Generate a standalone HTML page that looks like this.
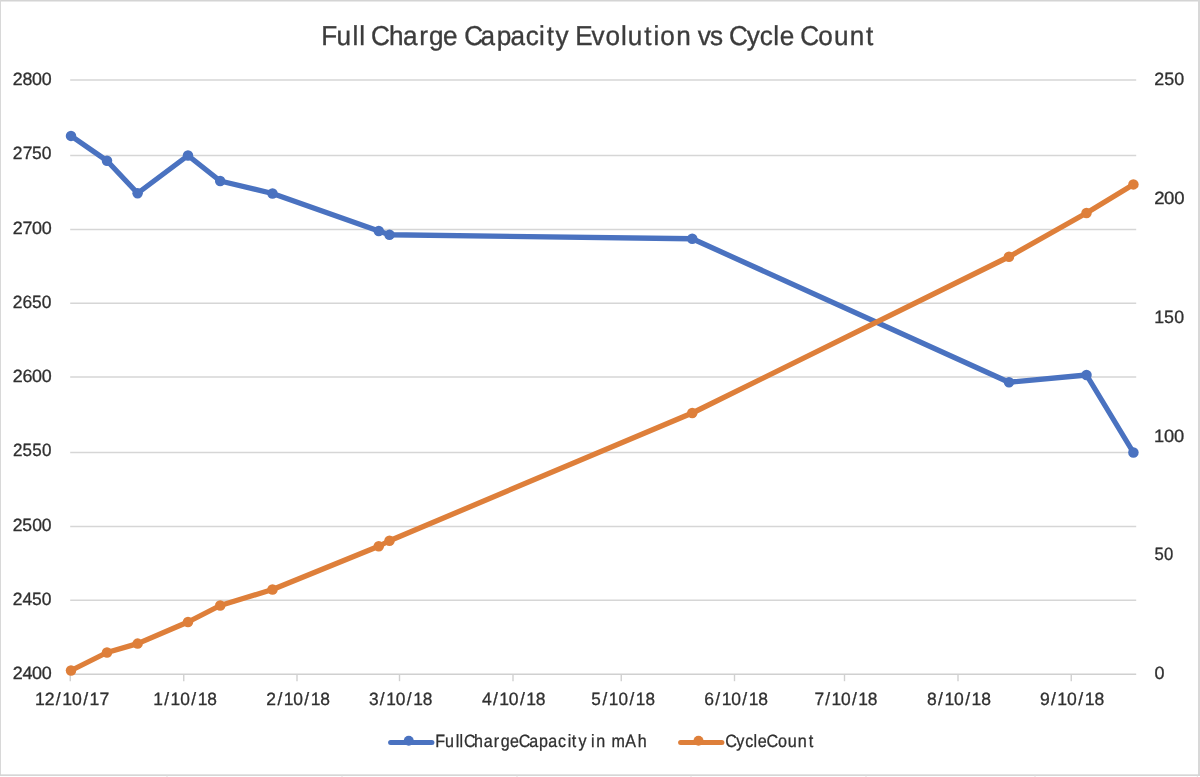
<!DOCTYPE html>
<html><head><meta charset="utf-8"><title>Full Charge Capacity Evolution vs Cycle Count</title>
<style>
html,body{margin:0;padding:0;background:#fff;}
body{width:1200px;height:777px;overflow:hidden;}
svg{display:block;font-family:"Liberation Sans",sans-serif;font-kerning:none;text-rendering:geometricPrecision;}
</style></head><body>
<svg width="1200" height="777" viewBox="0 0 1200 777">
<line x1="70.2" x2="1136.2" y1="80.1" y2="80.1" stroke="#d6d6d6" stroke-width="1.5"/>
<line x1="70.2" x2="1136.2" y1="155.4" y2="155.4" stroke="#d6d6d6" stroke-width="1.5"/>
<line x1="70.2" x2="1136.2" y1="229.5" y2="229.5" stroke="#d6d6d6" stroke-width="1.5"/>
<line x1="70.2" x2="1136.2" y1="303.2" y2="303.2" stroke="#d6d6d6" stroke-width="1.5"/>
<line x1="70.2" x2="1136.2" y1="377.0" y2="377.0" stroke="#d6d6d6" stroke-width="1.5"/>
<line x1="70.2" x2="1136.2" y1="452.5" y2="452.5" stroke="#d6d6d6" stroke-width="1.5"/>
<line x1="70.2" x2="1136.2" y1="526.6" y2="526.6" stroke="#d6d6d6" stroke-width="1.5"/>
<line x1="70.2" x2="1136.2" y1="600.3" y2="600.3" stroke="#d6d6d6" stroke-width="1.5"/>
<line x1="70.2" x2="1136.2" y1="674.3" y2="674.3" stroke="#d0d0d0" stroke-width="1.5"/>
<line x1="70.25" x2="70.25" y1="674.3" y2="681.2" stroke="#d0d0d0" stroke-width="1.4"/>
<line x1="183.75" x2="183.75" y1="674.3" y2="681.2" stroke="#d0d0d0" stroke-width="1.4"/>
<line x1="297" x2="297" y1="674.3" y2="681.2" stroke="#d0d0d0" stroke-width="1.4"/>
<line x1="399.5" x2="399.5" y1="674.3" y2="681.2" stroke="#d0d0d0" stroke-width="1.4"/>
<line x1="513" x2="513" y1="674.3" y2="681.2" stroke="#d0d0d0" stroke-width="1.4"/>
<line x1="621.25" x2="621.25" y1="674.3" y2="681.2" stroke="#d0d0d0" stroke-width="1.4"/>
<line x1="734.5" x2="734.5" y1="674.3" y2="681.2" stroke="#d0d0d0" stroke-width="1.4"/>
<line x1="844.5" x2="844.5" y1="674.3" y2="681.2" stroke="#d0d0d0" stroke-width="1.4"/>
<line x1="958" x2="958" y1="674.3" y2="681.2" stroke="#d0d0d0" stroke-width="1.4"/>
<line x1="1071.25" x2="1071.25" y1="674.3" y2="681.2" stroke="#d0d0d0" stroke-width="1.4"/>
<polyline points="71,135.9 107,160.75 137.6,193.25 188,155.5 220.2,181 272.5,193.5 378.75,231 389.5,234.75 692.25,238.75 1009,382.25 1086.5,375 1133.4,452.5" fill="none" stroke="#4a72c0" stroke-width="5.3" stroke-linejoin="round" stroke-linecap="round"/><circle cx="71" cy="135.9" r="5.25" fill="#4a72c0"/><circle cx="107" cy="160.75" r="5.25" fill="#4a72c0"/><circle cx="137.6" cy="193.25" r="5.25" fill="#4a72c0"/><circle cx="188" cy="155.5" r="5.25" fill="#4a72c0"/><circle cx="220.2" cy="181" r="5.25" fill="#4a72c0"/><circle cx="272.5" cy="193.5" r="5.25" fill="#4a72c0"/><circle cx="378.75" cy="231" r="5.25" fill="#4a72c0"/><circle cx="389.5" cy="234.75" r="5.25" fill="#4a72c0"/><circle cx="692.25" cy="238.75" r="5.25" fill="#4a72c0"/><circle cx="1009" cy="382.25" r="5.25" fill="#4a72c0"/><circle cx="1086.5" cy="375" r="5.25" fill="#4a72c0"/><circle cx="1133.4" cy="452.5" r="5.25" fill="#4a72c0"/>
<polyline points="71,670.5 107,652.5 137.6,643.6 188,622 220.2,605.5 272.5,589.5 378.75,546.25 389.5,540.75 692.25,413 1009,256.75 1086.5,213.05 1133.4,184.4" fill="none" stroke="#de7f3a" stroke-width="5.3" stroke-linejoin="round" stroke-linecap="round"/><circle cx="71" cy="670.5" r="5.25" fill="#de7f3a"/><circle cx="107" cy="652.5" r="5.25" fill="#de7f3a"/><circle cx="137.6" cy="643.6" r="5.25" fill="#de7f3a"/><circle cx="188" cy="622" r="5.25" fill="#de7f3a"/><circle cx="220.2" cy="605.5" r="5.25" fill="#de7f3a"/><circle cx="272.5" cy="589.5" r="5.25" fill="#de7f3a"/><circle cx="378.75" cy="546.25" r="5.25" fill="#de7f3a"/><circle cx="389.5" cy="540.75" r="5.25" fill="#de7f3a"/><circle cx="692.25" cy="413" r="5.25" fill="#de7f3a"/><circle cx="1009" cy="256.75" r="5.25" fill="#de7f3a"/><circle cx="1086.5" cy="213.05" r="5.25" fill="#de7f3a"/><circle cx="1133.4" cy="184.4" r="5.25" fill="#de7f3a"/>
<text transform="translate(0 85.00) scale(1.0015 1)" x="12.73 22.37 32.03 41.69" font-size="17.8" fill="#303030" stroke="#303030" stroke-width="0.3">2800</text>
<text transform="translate(0 159.28) scale(0.9811 1)" x="13.10 23.08 32.68 42.66" font-size="17.8" fill="#303030" stroke="#303030" stroke-width="0.3">2750</text>
<text transform="translate(0 233.56) scale(1.0093 1)" x="12.59 22.29 31.74 41.33" font-size="17.8" fill="#303030" stroke="#303030" stroke-width="0.3">2700</text>
<text transform="translate(0 307.84) scale(0.9778 1)" x="13.16 23.07 32.81 42.82" font-size="17.8" fill="#303030" stroke="#303030" stroke-width="0.3">2650</text>
<text transform="translate(0 382.12) scale(1.0059 1)" x="12.65 22.28 31.86 41.48" font-size="17.8" fill="#303030" stroke="#303030" stroke-width="0.3">2600</text>
<text transform="translate(0 456.40) scale(0.9570 1)" x="13.55 23.52 33.63 43.86" font-size="17.8" fill="#303030" stroke="#303030" stroke-width="0.3">2550</text>
<text transform="translate(0 530.68) scale(0.9850 1)" x="13.02 22.71 32.65 42.47" font-size="17.8" fill="#303030" stroke="#303030" stroke-width="0.3">2500</text>
<text transform="translate(0 604.96) scale(0.9818 1)" x="13.08 22.97 32.65 42.62" font-size="17.8" fill="#303030" stroke="#303030" stroke-width="0.3">2450</text>
<text transform="translate(0 679.24) scale(1.0093 1)" x="12.59 22.21 31.74 41.33" font-size="17.8" fill="#303030" stroke="#303030" stroke-width="0.3">2400</text>
<text transform="translate(0 85.00) scale(1.0053 1)" x="1148.28 1158.09 1168.15" font-size="17.8" fill="#303030" stroke="#303030" stroke-width="0.3">250</text>
<text transform="translate(0 203.85) scale(1.0439 1)" x="1105.62 1115.17 1124.75" font-size="17.8" fill="#303030" stroke="#303030" stroke-width="0.3">200</text>
<text transform="translate(0 322.70) scale(0.9992 1)" x="1155.23 1165.06 1175.30" font-size="17.8" fill="#303030" stroke="#303030" stroke-width="0.3">150</text>
<text transform="translate(0 441.55) scale(1.0297 1)" x="1120.76 1130.33 1140.07" font-size="17.8" fill="#303030" stroke="#303030" stroke-width="0.3">100</text>
<text transform="translate(0 560.40) scale(0.9368 1)" x="1232.47 1242.61" font-size="17.8" fill="#303030" stroke="#303030" stroke-width="0.3">50</text>
<text transform="translate(0 679.25) scale(1.0107 1)" x="1142.27" font-size="17.8" fill="#303030" stroke="#303030" stroke-width="0.3">0</text>
<text transform="translate(0 704.70) scale(0.9925 1)" x="35.22 45.05 56.27 62.75 72.55 83.79 90.27 100.22" font-size="17.8" fill="#303030" stroke="#303030" stroke-width="0.3">12/10/17</text>
<text transform="translate(0 704.70) scale(0.9753 1)" x="157.15 168.31 174.89 184.78 196.11 202.69 212.58" font-size="17.8" fill="#303030" stroke="#303030" stroke-width="0.3">1/10/18</text>
<text transform="translate(0 704.70) scale(0.9811 1)" x="271.51 282.72 289.20 298.99 310.23 316.70 326.49" font-size="17.8" fill="#303030" stroke="#303030" stroke-width="0.3">2/10/18</text>
<text transform="translate(0 704.70) scale(0.9750 1)" x="378.46 389.62 396.16 406.02 417.31 423.85 433.71" font-size="17.8" fill="#303030" stroke="#303030" stroke-width="0.3">3/10/18</text>
<text transform="translate(0 704.70) scale(0.9852 1)" x="489.18 500.31 506.74 516.49 527.69 534.12 543.87" font-size="17.8" fill="#303030" stroke="#303030" stroke-width="0.3">4/10/18</text>
<text transform="translate(0 704.70) scale(0.9652 1)" x="612.64 624.14 630.77 640.72 652.10 658.73 668.68" font-size="17.8" fill="#303030" stroke="#303030" stroke-width="0.3">5/10/18</text>
<text transform="translate(0 704.70) scale(0.9823 1)" x="717.07 728.26 734.72 744.50 755.73 762.19 771.97" font-size="17.8" fill="#303030" stroke="#303030" stroke-width="0.3">6/10/18</text>
<text transform="translate(0 704.70) scale(0.9780 1)" x="832.75 843.80 850.24 860.00 871.20 877.63 887.39" font-size="17.8" fill="#303030" stroke="#303030" stroke-width="0.3">7/10/18</text>
<text transform="translate(0 704.70) scale(0.9851 1)" x="940.98 952.24 958.73 968.55 979.81 986.30 996.12" font-size="17.8" fill="#303030" stroke="#303030" stroke-width="0.3">8/10/18</text>
<text transform="translate(0 704.70) scale(0.9869 1)" x="1053.84 1064.84 1071.39 1081.26 1092.57 1099.12 1108.99" font-size="17.8" fill="#303030" stroke="#303030" stroke-width="0.3">9/10/18</text>
<text transform="translate(0 45.40) scale(0.9612 1)" x="334.12 350.18 366.66 373.86 379.90 385.87 404.66 419.33 436.17 446.40 460.99 476.12 482.93 499.99 516.70 531.21 546.89 560.79 568.71 578.02 591.62 598.55 615.46 629.85 646.10 653.16 670.24 679.84 687.03 703.43 718.55 726.04 738.68 752.28 758.45 776.80 790.49 804.44 811.28 826.41 832.61 851.32 867.59 884.11 901.05" font-size="27.2" fill="#3c3c3c" stroke="#3c3c3c" stroke-width="0.35">Full Charge Capacity Evolution vs Cycle Count</text>
<line x1="390.6" x2="431.9" y1="742.6" y2="742.6" stroke="#4a72c0" stroke-width="5" stroke-linecap="round"/><circle cx="408.75" cy="740.8" r="5" fill="#4a72c0"/>
<line x1="680.6" x2="721.9" y1="742.6" y2="742.6" stroke="#de7f3a" stroke-width="5" stroke-linecap="round"/><circle cx="698.5" cy="740.8" r="5" fill="#de7f3a"/>
<text transform="translate(0 746.50) scale(0.9021 1)" x="482.50 493.16 505.20 509.30 514.22 525.47 536.22 547.40 555.03 565.24 575.00 586.60 597.59 607.80 618.65 629.31 633.72 641.23 650.13 655.22 661.09 670.99 677.90 693.24 707.07" font-size="17.8" fill="#303030" stroke="#303030" stroke-width="0.3">FullChargeCapacity in mAh</text>
<text transform="translate(0 746.50) scale(0.9097 1)" x="797.11 809.47 819.17 828.22 833.04 842.46 855.26 866.02 876.98 889.05" font-size="17.8" fill="#303030" stroke="#303030" stroke-width="0.3">CycleCount</text>
<rect x="0" y="0" width="1200" height="1.5" fill="#d4d4d4"/><rect x="0" y="0" width="1" height="775.8" fill="#d8d8d8"/><rect x="1198" y="0" width="2" height="775.8" fill="#d8d8d8"/><rect x="0" y="774.35" width="1200" height="1.6" fill="#d4d4d4"/><rect x="166.5" y="775.8" width="1" height="1.2" fill="#e4e4e4"/><rect x="341.5" y="775.8" width="1" height="1.2" fill="#e4e4e4"/><rect x="516.5" y="775.8" width="1" height="1.2" fill="#e4e4e4"/><rect x="690.5" y="775.8" width="1" height="1.2" fill="#e4e4e4"/><rect x="865.5" y="775.8" width="1" height="1.2" fill="#e4e4e4"/><rect x="1034.5" y="775.8" width="1" height="1.2" fill="#e4e4e4"/><rect x="1196.8" y="775.8" width="1" height="1.2" fill="#e4e4e4"/>
</svg>
</body></html>
